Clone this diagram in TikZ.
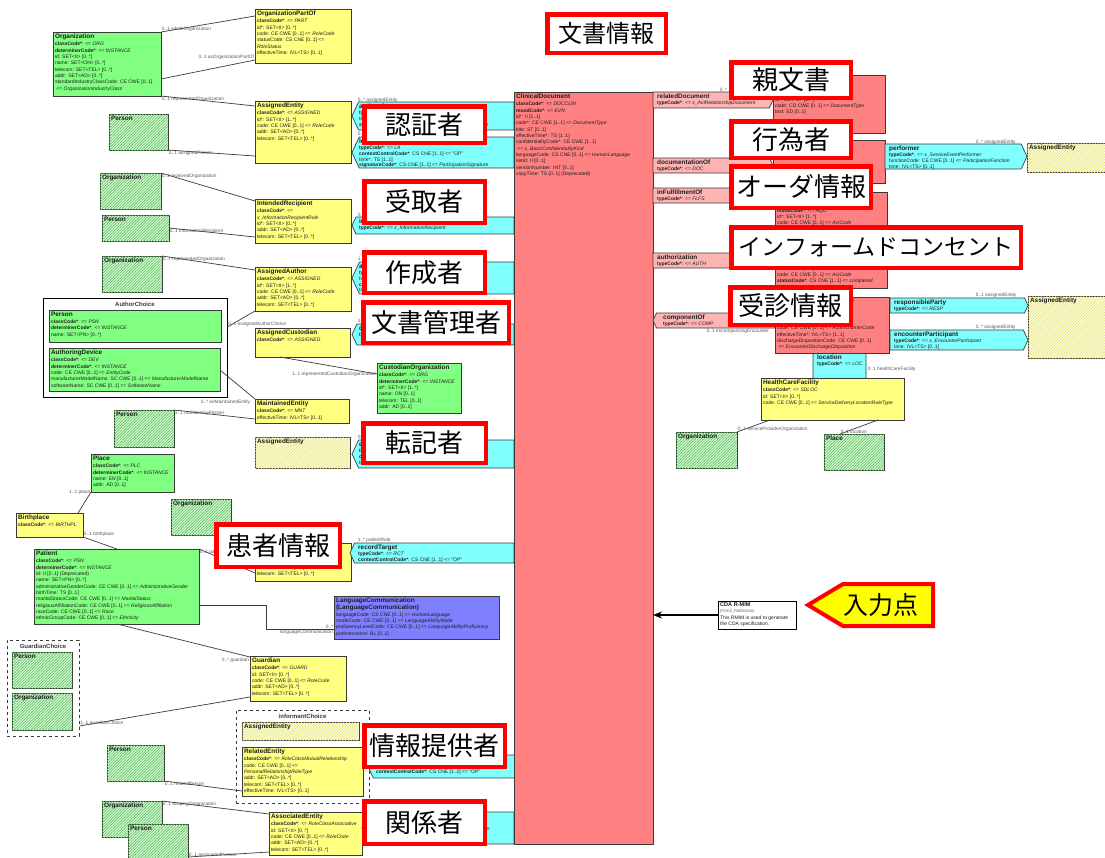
\documentclass[tikz,border=0pt]{standalone}
\usepackage{fontspec}
\setmainfont{Liberation Sans}
\newfontfamily\jp{Noto Sans CJK JP}
\usetikzlibrary{shapes.symbols, patterns.meta, arrows.meta, calc}

\definecolor{rimgreen}{HTML}{80FF80}
\definecolor{hgreen}{HTML}{DDF8DD}
\definecolor{hgreenline}{HTML}{55C455}
\definecolor{rimyellow}{HTML}{FFFF80}
\definecolor{hyellow}{HTML}{FFFFE0}
\definecolor{hyellowline}{HTML}{E0E070}
\definecolor{rimred}{HTML}{FF8080}
\definecolor{rimpink}{HTML}{FFB4B4}
\definecolor{rimcyan}{HTML}{80FFFF}
\definecolor{rimblue}{HTML}{8080FF}
\definecolor{boxline}{HTML}{3A3A3A}
\definecolor{txtdark}{HTML}{1E1E1E}
\definecolor{lblgrey}{HTML}{5A5A5A}
\definecolor{tagred}{HTML}{FF0000}
\definecolor{tagyellow}{HTML}{FFFF00}

% class header and coded attribute
\newcommand{\hd}[1]{{\fontsize{6.4}{7}\selectfont\bfseries #1}}
\newcommand{\cc}[2]{\textbf{#1}: <= \textit{#2}}
% box by its corners on the pixel grid, text in the top left corner
\newcommand{\rim}[7]{%
  \node[#1, minimum width={#5-#3}, minimum height={#6-#4}] (#2) at ({(#3+#5)/2},{(#4+#6)/2}) {};
  \node[txt] (#2t) at (#3+0.5,#4+0.5) {#7};}
% arrow shaped box held by its flat side (#1), its text starts at x = #8
\newcommand{\sig}[9][east]{%
  \node[frame, minimum width={#6-#4}, minimum height={#7-#5}] (#3f) at ({(#4+#6)/2},{(#5+#7)/2}) {};
  \node[#2, anchor=#1, minimum width={#6-#4}, minimum height={#7-#5}] (#3) at (#3f.#1) {};
  \node[txt, inner sep=1pt, font=\fontsize{5}{5.8}\selectfont] (#3t) at (#8,#5+0.5) {#9};}
% red caption
\newcommand{\tagat}[7][]{%
  \node[tag, #1, minimum width={#5-#3-4.5}, minimum height={#6-#4-4.5}] (#2) at ({(#3+#5)/2},{(#4+#6)/2}) {#7};}

\begin{document}
\begin{tikzpicture}[x=1pt, y=-1pt]

    \tikzstyle{frame} = [inner sep=0, outer sep=0];
    \tikzstyle{umlbox} = [draw=boxline, line width=0.7pt, inner sep=0, outer sep=0];
    \tikzstyle{entity} = [umlbox, fill=rimgreen];
    \tikzstyle{entityref} = [umlbox, fill=hgreen, postaction={pattern={Lines[angle=45, distance=2pt, line width=0.65pt]}, pattern color=hgreenline}];
    \tikzstyle{role} = [umlbox, fill=rimyellow];
    \tikzstyle{roleref} = [umlbox, fill=hyellow, postaction={pattern={Lines[angle=45, distance=2pt, line width=0.55pt]}, pattern color=hyellowline}];
    \tikzstyle{act} = [umlbox, fill=rimred];
    \tikzstyle{other} = [umlbox, fill=rimblue];
    \tikzstyle{sigbox} = [umlbox, signal, signal pointer angle=130];
    \tikzstyle{partw} = [sigbox, fill=rimcyan, signal to=west];
    \tikzstyle{parte} = [sigbox, fill=rimcyan, signal to=east];
    \tikzstyle{parts} = [sigbox, fill=rimcyan, signal to=south, signal pointer angle=145];
    \tikzstyle{relw} = [sigbox, fill=rimpink, signal to=west];
    \tikzstyle{rele} = [sigbox, fill=rimpink, signal to=east];
    \tikzstyle{choicebox} = [draw=black, line width=0.8pt, fill=white, inner sep=0];
    \tikzstyle{choicettl} = [inner sep=0, text=boxline, font=\fontsize{6}{7}\selectfont\bfseries];
    \tikzstyle{txt} = [anchor=north west, inner sep=1.4pt, align=left, text=txtdark, font=\fontsize{5}{6.35}\selectfont];
    \tikzstyle{lbl} = [inner sep=0.6pt, text=lblgrey, font=\fontsize{4.8}{5}\selectfont];
    \tikzstyle{link} = [draw=boxline, line width=0.7pt];
    \tikzstyle{arrow} = [line width=1.4pt, -{Stealth[length=9pt, width=7pt]}];
    \tikzstyle{tag} = [draw=tagred, line width=4.5pt, fill=white, inner sep=0, font=\jp\fontsize{26}{28}\selectfont];
    \tikzstyle{inputbox} = [draw=tagred, line width=4pt, fill=tagyellow, signal, signal to=west, signal pointer angle=62, inner sep=0];

    \path[use as bounding box, fill=white] (0,0) rectangle (1105,857);

    % Left - Authenticator, recipient, author
    \rim{entity}{org}{53}{32}{161}{96}{\hd{Organization}\\[.6pt] \cc{classCode*}{ORG}\\ \cc{determinerCode*}{INSTANCE}\\ id: SET<II> [0..*]\\ name: SET<ON> [0..*]\\ telecom: SET<TEL> [0..*]\\ addr: SET<AD> [0..*]\\ standardIndustryClassCode: CE CWE [0..1]\\ \ <= \textit{OrganizationIndustryClass}}
    \rim{role}{orgpart}{255}{9}{351}{63}{\hd{OrganizationPartOf}\\[.6pt] \cc{classCode*}{PART}\\ id*: SET<II> [0..*]\\ code: CE CWE [0..1] <= \textit{RoleCode}\\ statusCode: CS CNE [0..1] <=\\ \textit{RoleStatus}\\ effectiveTime: IVL<TS> [0..1]}
    \rim{role}{aeauth}{255}{101}{351}{163}{\hd{AssignedEntity}\\[.6pt] \cc{classCode*}{ASSIGNED}\\ id*: SET<II> [1..*]\\ code: CE CWE [0..1] <= \textit{RoleCode}\\ addr: SET<AD> [0..*]\\ telecom: SET<TEL> [0..*]}
    \rim{entityref}{persauth}{109}{114}{168}{150}{\hd{Person}}
    \rim{entityref}{orgrecv}{100}{173}{161}{209}{\hd{Organization}}
    \rim{entityref}{persrecv}{102}{215}{169}{241}{\hd{Person}}
    \rim{role}{recip}{255}{199}{351}{243}{\hd{IntendedRecipient}\\[.6pt] \textbf{classCode*}: <=\\ \textit{x\_InformationRecipientRole}\\ id*: SET<II> [0..*]\\ addr: SET<AD> [0..*]\\ telecom: SET<TEL> [0..*]}
    \rim{entityref}{orgauth}{102}{256}{162}{292}{\hd{Organization}}
    \rim{role}{author}{255}{267}{351}{311}{\hd{AssignedAuthor}\\[.6pt] \cc{classCode*}{ASSIGNED}\\ id*: SET<II> [1..*]\\ code: CE CWE [0..1] <= \textit{RoleCode}\\ addr: SET<AD> [0..*]\\ telecom: SET<TEL> [0..*]}

    \node[choicebox, minimum width=184, minimum height=99] (authchoice) at (135,347.5) {};
    \node[choicettl] (authchoicettl) at (135,304.5) {AuthorChoice};
    \rim{entity}{authperson}{49}{310}{221}{342}{\hd{Person}\\[.6pt] \cc{classCode*}{PSN}\\ \cc{determinerCode*}{INSTANCE}\\ name: SET<PN> [0..*]}
    \rim{entity}{authdevice}{49}{348}{220}{391}{\hd{AuthoringDevice}\\[.6pt] \cc{classCode*}{DEV}\\ \cc{determinerCode*}{INSTANCE}\\ code: CE CWE [0..1] <= \textit{EntityCode}\\ manufacturerModelName: SC CWE [0..1] <= \textit{ManufacturerModelName}\\ softwareName: SC CWE [0..1] <= \textit{SoftwareName}}

    % Left - Custodian, data enterer
    \rim{role}{custodian}{255}{328}{350}{357}{\hd{AssignedCustodian}\\[.6pt] \cc{classCode*}{ASSIGNED}}
    \rim{entity}{custorg}{377}{363}{461}{413}{\hd{CustodianOrganization}\\[.6pt] \cc{classCode*}{ORG}\\ \cc{determinerCode*}{INSTANCE}\\ id*: SET<II> [1..*]\\ name: ON [0..1]\\ telecom: TEL [0..1]\\ addr: AD [0..1]}
    \rim{role}{maint}{255}{399}{349}{423}{\hd{MaintainedEntity}\\[.6pt] \cc{classCode*}{MNT}\\ effectiveTime: IVL<TS> [0..1]}
    \rim{entityref}{persmaint}{114}{410}{174}{447}{\hd{Person}}
    \rim{roleref}{aedata}{255}{437}{350}{468}{\hd{AssignedEntity}}

    % Left - Record target
    \rim{entity}{place}{91}{454}{174}{492}{\hd{Place}\\[.6pt] \cc{classCode*}{PLC}\\ \cc{determinerCode*}{INSTANCE}\\ name: EN [0..1]\\ addr: AD [0..1]}
    \rim{role}{birth}{16}{513}{83}{537}{\hd{Birthplace}\\[.6pt] \cc{classCode*}{BIRTHPL}}
    \rim{entityref}{orgpat}{171}{499}{231}{535}{\hd{Organization}}
    \rim{entity}{patient}{34}{549}{199}{624}{\hd{Patient}\\[.6pt] \cc{classCode*}{PSN}\\ \cc{determinerCode*}{INSTANCE}\\ id: II [0..1] (Deprecated)\\ name: SET<PN> [0..*]\\ administrativeGenderCode: CE CWE [0..1] <= \textit{AdministrativeGender}\\ birthTime: TS [0..1]\\ maritalStatusCode: CE CWE [0..1] <= \textit{MaritalStatus}\\ religiousAffiliationCode: CE CWE [0..1] <= \textit{ReligiousAffiliation}\\ raceCode: CE CWE [0..1] <= \textit{Race}\\ ethnicGroupCode: CE CWE [0..1] <= \textit{Ethnicity}}
    \rim{role}{prole}{255}{543}{351}{581}{\phantom{\hd{PatientRole}}\\[.6pt] \phantom{c}\\ \phantom{i}\\ addr: SET<AD> [0..*]\\ telecom: SET<TEL> [0..*]}
    \rim{other}{langcomm}{334}{596}{499}{639}{\hd{LanguageCommunication}\\ \hd{(LanguageCommunication)}\\[.6pt] languageCode: CS CNE [0..1] <= \textit{HumanLanguage}\\ modeCode: CE CWE [0..1] <= \textit{LanguageAbilityMode}\\ proficiencyLevelCode: CE CWE [0..1] <= \textit{LanguageAbilityProficiency}\\ preferenceInd: BL [0..1]}
    \rim{role}{guardian}{250}{656}{346}{701}{\hd{Guardian}\\[.6pt] \cc{classCode*}{GUARD}\\ id: SET<II> [0..*]\\ code: CE CWE [0..1] <= \textit{RoleCode}\\ addr: SET<AD> [0..*]\\ telecom: SET<TEL> [0..*]}
    \node[choicebox, dashed, draw=boxline, minimum width=72, minimum height=96] (guardchoice) at (43,688) {};
    \node[choicettl] (guardchoicettl) at (43,646) {GuardianChoice};
    \rim{entityref}{guardperson}{12}{652}{72}{688}{\hd{Person}}
    \rim{entityref}{guardorg}{12}{693}{72}{730}{\hd{Organization}}

    % Left - Informant, participant
    \node[choicebox, dashed, draw=boxline, minimum width=133, minimum height=93] (infchoice) at (302.5,756.5) {};
    \node[choicettl] (infchoicettl) at (302.5,716) {informantChoice};
    \rim{roleref}{infae}{242}{722}{359}{740}{\hd{AssignedEntity}}
    \rim{role}{relent}{242}{747}{363}{796}{\hd{RelatedEntity}\\[.6pt] \cc{classCode*}{RoleClassMutualRelationship}\\ code: CE CWE [0..1] <=\\ \textit{PersonalRelationshipRoleType}\\ addr: SET<AD> [0..*]\\ telecom: SET<TEL> [0..*]\\ effectiveTime: IVL<TS> [0..1]}
    \rim{entityref}{persrel}{107}{745}{164}{781}{\hd{Person}}
    \rim{entityref}{orgassoc}{102}{801}{162}{837}{\hd{Organization}}
    \rim{entityref}{persassoc}{128}{824}{188}{870}{\hd{Person}}
    \rim{role}{assoc}{269}{812}{362}{855}{\hd{AssociatedEntity}\\[.6pt] \cc{classCode*}{RoleClassAssociative}\\ id: SET<II> [0..*]\\ code: CE CWE [0..1] <= \textit{RoleCode}\\ addr: SET<AD> [0..*]\\ telecom: SET<TEL> [0..*]}

    % Centre - participations and ClinicalDocument
    \node[lbl, anchor=west] (lauthen) at (357,100) {0..* assignedEntity};
    \sig{partw}{authen}{352}{102}{514}{130}{358}{\hd{authenticator}\\[.4pt] \cc{typeCode*}{AUTHEN}\\ time*: TS [1..1]\\ \textbf{signatureCode*}: CS CNE [1..1] <= \textit{ParticipationSignature}}
    \node[lbl, anchor=west] (llegal) at (357,134) {0..1 assignedEntity};
    \sig{partw}{legal}{352}{137}{514}{168}{358}{\hd{legalAuthenticator}\\[.4pt] \cc{typeCode*}{LA}\\ \textbf{contextControlCode*}: CS CNE [1..1] <= "OP"\\ time*: TS [1..1]\\ \textbf{signatureCode*}: CS CNE [1..1] <= \textit{ParticipationSignature}}
    \node[lbl, anchor=west] (linforecip) at (357,215) {0..* intendedRecipient};
    \sig{partw}{inforecip}{352}{217}{514}{234}{358}{\hd{informationRecipient}\\[.4pt] \cc{typeCode*}{x\_InformationRecipient}}
    \node[lbl, anchor=west] (lauthor) at (357,259) {1..* assignedAuthor};
    \sig{partw}{authorp}{352}{262}{514}{294}{358}{\hd{author}\\[.4pt] \cc{typeCode*}{AUT}\\ functionCode: CE CWE [0..1] <= \textit{ParticipationFunction}\\ \textbf{contextControlCode*}: CS CNE [1..1] <= "OP"\\ time*: TS [1..1]}
    \node[lbl, anchor=west] (lcustp) at (357,321) {1..1 assignedCustodian};
    \sig{partw}{custp}{352}{324}{514}{345}{358}{\hd{custodian}\\[.4pt] \cc{typeCode*}{CST}}
    \node[lbl, anchor=west] (ldataent) at (357,437) {0..1 assignedEntity};
    \sig{partw}{dataent}{352}{440}{514}{468}{358}{\hd{dataEnterer}\\[.4pt] \cc{typeCode*}{ENT}\\ \textbf{contextControlCode*}: CS CNE [1..1] <= "OP"\\ time: TS [0..1]}
    \node[lbl, anchor=west] (lrect) at (357,540) {1..* patientRole};
    \sig{partw}{rectarget}{350}{543}{514}{563}{357}{\hd{recordTarget}\\[.4pt] \cc{typeCode*}{RCT}\\ \textbf{contextControlCode*}: CS CNE [1..1] <= "OP"}
    \sig{partw}{informant}{368}{755}{517}{778}{375}{\phantom{\hd{informant}}\\[.4pt] \phantom{t}\\ \textbf{contextControlCode*}: CS CNE [1..1] <= "OP"}
    \sig{partw}{particp}{362}{812}{514}{844}{368}{\phantom{\hd{participant}}\\[.4pt] \phantom{t}\\ functionCode: CE CWE [0..1] <= \textit{ParticipationFunction}}

    \rim{act}{cdoc}{514}{92}{653}{844}{\hd{ClinicalDocument}\\[.6pt] \cc{classCode*}{DOCCLIN}\\ \cc{moodCode*}{EVN}\\ id*: II [1..1]\\ code*: CE CWE [1..1] <= \textit{DocumentType}\\ title: ST [0..1]\\ effectiveTime*: TS [1..1]\\ confidentialityCode*: CE CWE [1..1]\\ \ <= \textit{x\_BasicConfidentialityKind}\\ languageCode: CS CNE [0..1] <= \textit{HumanLanguage}\\ setId: II [0..1]\\ versionNumber: INT [0..1]\\ copyTime: TS [0..1] (Deprecated)}

    % Right - act relationships
    \node[lbl, anchor=west] (lreldoc) at (719,90) {0..*};
    \sig[west]{rele}{reldoc}{653}{92}{773}{108}{656}{\hd{relatedDocument}\\[.4pt] \cc{typeCode*}{x\_ActRelationshipDocument}}
    \sig[west]{rele}{docof}{653}{158}{773}{173}{656}{\hd{documentationOf}\\[.4pt] \cc{typeCode*}{DOC}}
    \sig[west]{rele}{infulfil}{653}{188}{775}{203}{656}{\hd{inFulfillmentOf}\\[.4pt] \cc{typeCode*}{FLFS}}
    \sig[west]{rele}{authz}{653}{253}{775}{268}{656}{\hd{authorization}\\[.4pt] \cc{typeCode*}{AUTH}}
    \node[lbl, anchor=west] (lencomp) at (706,331) {0..1 encompassingEncounter};
    \sig{relw}{compof}{653}{313}{775}{328}{662}{\hd{componentOf}\\[.4pt] \cc{typeCode*}{COMP}}

    \rim{act}{parentdoc}{773}{75}{885}{133}{\phantom{\hd{ParentDocument}}\\[.6pt] \phantom{c}\\ \phantom{m}\\ id*: SET<II> [1..*]\\ code: CD CWE [0..1] <= \textit{DocumentType}\\ text: ED [0..1]}
    \rim{act}{svcevent}{773}{140}{885}{183}{}
    \rim{act}{order}{775}{192}{887}{238}{\phantom{\hd{Order}}\\[.6pt] \phantom{c}\\ \cc{moodCode*}{RQO}\\ id*: SET<II> [1..*]\\ code: CE CWE [0..1] <= \textit{ActCode}}
    \rim{act}{consent}{775}{244}{887}{288}{\phantom{\hd{Consent}}\\[.6pt] \phantom{c}\\ \phantom{m}\\ id: SET<II> [0..*]\\ code: CE CWE [0..1] <= \textit{ActCode}\\ \textbf{statusCode*}: CS CNE [1..1] <= \textit{completed}}
    \sig[north]{parts}{location}{813}{353}{866}{378}{816}{\hd{location}\\[.4pt] \cc{typeCode*}{LOC}}
    \rim{act}{encounter}{775}{297}{889}{353}{\hd{EncompassingEncounter}\\[.6pt] \phantom{c}\\ \phantom{m}\\ \phantom{i}\\ code: CE CWE [0..1] <= \textit{ActEncounterCode}\\ effectiveTime*: IVL<TS> [1..1]\\ dischargeDispositionCode: CE CWE [0..1]\\ \ <= \textit{EncounterDischargeDisposition}}

    % Right - participations
    \node[lbl, anchor=west] (lperf) at (975,142) {0..* assignedEntity};
    \sig[west]{parte}{performer}{885}{144}{1027}{169}{888}{\hd{performer}\\[.4pt] \cc{typeCode*}{x\_ServiceEventPerformer}\\ functionCode: CE CWE [0..1] <= \textit{ParticipationFunction}\\ time: IVL<TS> [0..1]}
    \rim{roleref}{aeperf}{1027}{143}{1110}{172}{\hd{AssignedEntity}}
    \node[lbl, anchor=west] (lresp) at (975,295) {0..1 assignedEntity};
    \sig[west]{parte}{respparty}{890}{298}{1028}{313}{893}{\hd{responsibleParty}\\[.4pt] \cc{typeCode*}{RESP}}
    \node[lbl, anchor=west] (lencp) at (975,327) {0..* assignedEntity};
    \sig[west]{parte}{encpart}{890}{330}{1028}{350}{893}{\hd{encounterParticipant}\\[.4pt] \cc{typeCode*}{x\_EncounterParticipant}\\ time: IVL<TS> [0..1]}
    \rim{roleref}{aeenc}{1028}{296}{1110}{358}{\hd{AssignedEntity}}
    \node[lbl, anchor=west] (lhcf) at (867,369) {0..1 healthCareFacility};
    \rim{role}{hcf}{761}{378}{904}{420}{\hd{HealthCareFacility}\\[.6pt] \cc{classCode*}{SDLOC}\\ id: SET<II> [0..*]\\ code: CE CWE [0..1] <= \textit{ServiceDeliveryLocationRoleType}}
    \rim{entityref}{orghcf}{676}{432}{737}{468}{\hd{Organization}}
    \rim{entityref}{placehcf}{824}{434}{884}{470}{\hd{Place}}

    % Connectors
    \draw[link] (org.east |- 0,32) -- (orgpart.west |- 0,16)
        node[lbl, at start, anchor=south west] (lwhole) {0..1 wholeOrganization};
    \draw[link] (org.east |- 0,79) -- (orgpart.west |- 0,60)
        node[lbl, at end, anchor=south east] (lpartof) {0..1 asOrganizationPartOf};
    \draw[link] (org.south east) -- (aeauth.west |- 0,106)
        node[lbl, at start, anchor=north west] (lrep1) {0..1 representedOrganization};
    \draw[link] (persauth.south east) -- (aeauth.west |- 0,156)
        node[lbl, at start, anchor=north west] (lasgp) {0..1 assignedPerson};
    \draw[link] (orgrecv.north east) -- (recip.west |- 0,201)
        node[lbl, at start, anchor=north west] (lrecv) {0..1 receivedOrganization};
    \draw[link] (persrecv.east |- 0,228) -- (recip.west |- 0,237)
        node[lbl, at start, anchor=north west] (linfr) {0..1 informationRecipient};
    \draw[link] (orgauth.north east) -- (author.west |- 0,270)
        node[lbl, at start, anchor=north west] (lrep2) {0..1 representedOrganization};
    \draw[link] (authchoice.east |- 0,327) -- (author.south west)
        node[lbl, at start, anchor=south west] (lchoice) {0..1 assignedAuthorChoice};
    \draw[link] ($(custodian.south west)+(25,0)$) -- (custorg.west |- 0,374)
        node[lbl, at end, anchor=east] (lcustorg) {1..1 representedCustodianOrganization};
    \draw[link] (authdevice.east |- 0,370) -- (maint.north west)
        node[lbl, at end, anchor=north east, xshift=-4pt] (lmaint) {0..* asMaintainedEntity};
    \draw[link] (persmaint.north east) -- (maint.west |- 0,419)
        node[lbl, at start, anchor=north west] (lmperson) {1..1 maintainingPerson};
    \draw[link] ($(birth.north east)+(-5,0)$) -- (place.south west)
        node[lbl, at end, anchor=east] (lplace) {1..1 place};
    \draw[link] (birth.south east) -- ($(patient.north west)+(83,0)$)
        node[lbl, at start, anchor=south west] (lbirth) {0..1 birthplace};
    \draw[link] (patient.north east) -- (prole.west |- 0,573)
        node[lbl, at start, anchor=north west] (lpatient) {0..1 patient};
    \draw[link] (patient.east |- 0,605) -- ++(67,0) |- (langcomm.west |- 0,629)
        node[lbl, at end, anchor=south east] (llang) {0..*}
        node[lbl, at end, anchor=north east] (llangc) {languageCommunication};
    \draw[link] ($(patient.south west)+(83,0)$) -- (guardian.west |- 0,657)
        node[lbl, at end, anchor=north east] (lguard) {0..* guardian};
    \draw[link] (guardchoice.east |- 0,726) -- (guardian.west |- 0,697)
        node[lbl, at start, anchor=south west] (lgchoice) {1..1 guardianChoice};
    \draw[link] (persrel.south east) -- (relent.west |- 0,791)
        node[lbl, at start, anchor=north west] (lrelp) {0..1 relatedPerson};
    \draw[link] (orgassoc.north east) -- (assoc.west |- 0,814)
        node[lbl, at start, anchor=north west] (lscop) {0..1 scopingOrganization};
    \draw[link] (persassoc.east |- 0,857) -- (assoc.west |- 0,852)
        node[lbl, at start, anchor=south west] (lassp) {0..1 associatedPerson};
    \draw[link] ($(hcf.south west)+(9,0)$) -- (orghcf.north east)
        node[lbl, at end, anchor=south west] (lspo) {0..1 serviceProviderOrganization};
    \draw[link] ($(hcf.south east)+(-26,0)$) -- ($(placehcf.north west)+(16,0)$)
        node[lbl, at end, anchor=south west] (lloc) {0..1 location};

    % Entry point
    \node[umlbox, draw=black, fill=white, minimum width=78, minimum height=28] (rmim) at (757,615) {};
    \node[txt] (rmimt) at (718.5,601) {\textbf{\fontsize{5.6}{6}\selectfont CDA R-MIM}\\ {\color{lblgrey}\fontsize{3.8}{4.5}\selectfont (POCD\_RM000040)}\\ This RMIM is used to generate\\ the CDA specification.};
    \draw[arrow] (rmim.west) -- (cdoc.east |- rmim.west);
    \node[inputbox, anchor=east, minimum width=125, minimum height=42] (input) at (935,605) {};
    \node[inner sep=0, font=\jp\fontsize{25}{27}\selectfont] (inputt) at (881,605) {入力点};

    % Captions
    \tagat[font=\jp\fontsize{24}{26}\selectfont]{tgbunsho}{545}{12}{668}{55}{文書情報}
    \tagat{tgninsho}{362}{104}{487}{145}{認証者}
    \tagat{tguketori}{362}{179}{487}{225}{受取者}
    \tagat{tgsakusei}{362}{250}{487}{295}{作成者}
    \tagat{tgkanri}{361}{300}{511}{345}{文書管理者}
    \tagat{tgtenki}{361}{421}{488}{465}{転記者}
    \tagat{tgkanja}{214}{522}{342}{569}{患者情報}
    \tagat{tgteikyo}{362}{723}{507}{769}{情報提供者}
    \tagat{tgkankei}{362}{799}{487}{846}{関係者}
    \tagat{tgoya}{729}{60}{853}{100}{親文書}
    \tagat{tgkoui}{729}{119}{853}{160}{行為者}
    \tagat{tgorder}{729}{164}{873}{210}{オーダ情報}
    \tagat[font=\jp\fontsize{23}{25}\selectfont]{tgic}{729}{225}{1023}{270}{インフォームドコンセント}
    \tagat{tgjushin}{728}{285}{853}{327}{受診情報}

\end{tikzpicture}
\end{document}
